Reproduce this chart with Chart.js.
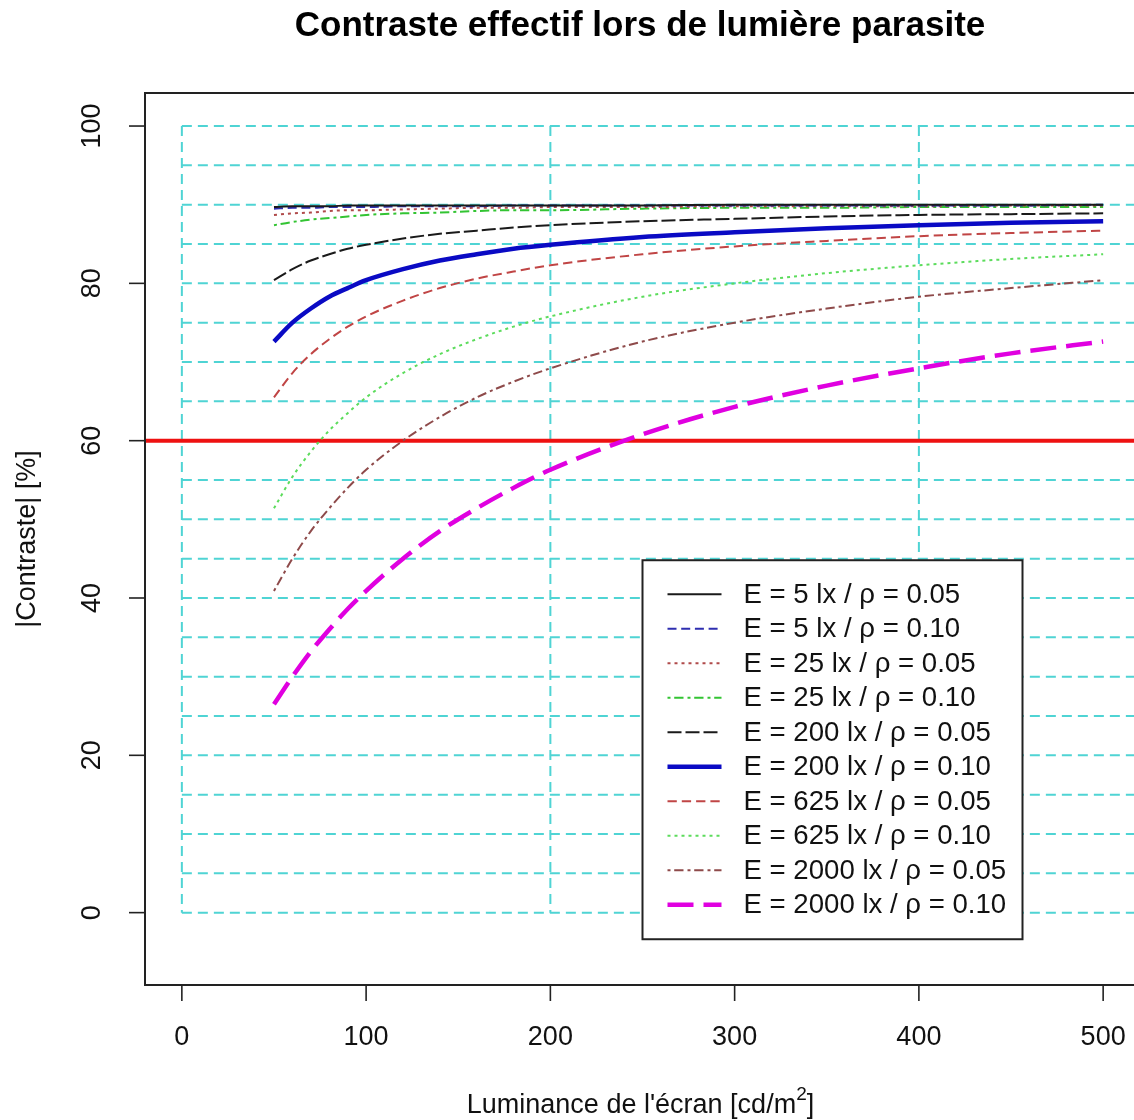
<!DOCTYPE html>
<html><head><meta charset="utf-8">
<script src="https://cdn.jsdelivr.net/npm/chart.js@4.4.1/dist/chart.umd.min.js"></script>
<style>
html,body{margin:0;padding:0;background:#fff;overflow:hidden;width:1134px;height:1120px}
#wrap{position:absolute;left:0;top:0;width:1160px;height:1120px}
</style>
</head><body><div id="wrap"><canvas id="c" width="1160" height="1120"></canvas></div>
<script>
// ---- data ----
const luminance = [50,60,70,80,90,100,120,140,160,180,200,250,300,350,400,450,500];
const seriesLabels = [
  'E = 5 lx / ρ = 0.05','E = 5 lx / ρ = 0.10',
  'E = 25 lx / ρ = 0.05','E = 25 lx / ρ = 0.10',
  'E = 200 lx / ρ = 0.05','E = 200 lx / ρ = 0.10',
  'E = 625 lx / ρ = 0.05','E = 625 lx / ρ = 0.10',
  'E = 2000 lx / ρ = 0.05','E = 2000 lx / ρ = 0.10'
];
const cE5r05   = [89.7,89.8,89.8,89.8,89.9,89.9,89.9,89.9,89.9,89.9,89.9,89.9,90.0,90.0,90.0,90.0,90.0];
const cE5r10   = [89.5,89.6,89.6,89.7,89.7,89.7,89.8,89.8,89.8,89.9,89.9,89.9,89.9,89.9,89.9,89.9,90.0];
const cE25r05  = [88.7,88.9,89.0,89.2,89.3,89.3,89.4,89.5,89.6,89.6,89.7,89.7,89.8,89.8,89.8,89.9,89.9];
const cE25r10  = [87.4,87.8,88.1,88.3,88.5,88.7,88.9,89.0,89.2,89.3,89.3,89.5,89.6,89.6,89.7,89.7,89.7];
const cE200r05 = [80.4,81.8,82.9,83.7,84.4,84.9,85.7,86.3,86.7,87.1,87.4,87.9,88.2,88.5,88.7,88.8,88.9];
const cE200r10 = [72.6,75.0,76.8,78.3,79.4,80.4,81.8,82.9,83.7,84.4,84.9,85.9,86.5,87.0,87.4,87.7,87.9];
const cE625r05 = [65.5,68.6,71.0,72.9,74.5,75.8,77.8,79.4,80.6,81.5,82.3,83.7,84.7,85.4,86.0,86.4,86.7];
const cE625r10 = [51.4,55.4,58.6,61.3,63.5,65.5,68.6,71.0,72.9,74.5,75.8,78.3,80.0,81.3,82.3,83.1,83.7];
const cE2000r05= [40.9,45.0,48.5,51.4,54.0,56.3,60.0,63.0,65.5,67.5,69.2,72.6,75.0,76.8,78.3,79.4,80.4];
const cE2000r10= [26.5,30.0,33.2,36.0,38.6,40.9,45.0,48.5,51.4,54.0,56.3,60.8,64.3,67.0,69.2,71.1,72.6];
const thresholdY = 60;
const thresholdX = [-20, 520];
const xTicks = [0,100,200,300,400,500];
const yTicks = [0,20,40,60,80,100];
const gridX = [0,200,400,600];
const gridY = [0,5,10,15,20,25,30,35,40,45,50,55,60,65,70,75,80,85,90,95,100];

const seriesValues = [cE5r05,cE5r10,cE25r05,cE25r10,cE200r05,cE200r10,cE625r05,cE625r10,cE2000r05,cE2000r10];
const styles = [
  {c:'#1a1a1a', w:2,   d:[]},
  {c:'#2e2eb0', w:2,   d:[9,4.7]},
  {c:'#b04a4a', w:2,   d:[3,4]},
  {c:'#33c433', w:2,   d:[3,3.7,9.3,4]},
  {c:'#1a1a1a', w:2,   d:[14,4]},
  {c:'#0a0ac4', w:4.5, d:[]},
  {c:'#c04545', w:2,   d:[9.3,5]},
  {c:'#5cdc5c', w:2,   d:[3,4]},
  {c:'#8e4a4a', w:2,   d:[3,3.7,9.3,4]},
  {c:'#e000e0', w:4.5, d:[26,10]}
];

const FONT = '"Liberation Sans", Arial, Helvetica, sans-serif';
const datasets = seriesValues.map((vals,i)=>({
  label: seriesLabels[i],
  data: luminance.map((l,j)=>({x:l,y:vals[j]})),
  borderColor: styles[i].c, borderWidth: styles[i].w, borderDash: styles[i].d,
  borderCapStyle:'butt', pointRadius:0, fill:false, cubicInterpolationMode:'monotone'
}));
datasets.push({
  label:'seuil', data: thresholdX.map(v=>({x:v,y:thresholdY})),
  borderColor:'#ee1111', borderWidth:4, pointRadius:0, fill:false
});

const decor = {
  id:'decor',
  beforeDatasetsDraw(chart){
    const {ctx, chartArea:a, scales:{x,y}} = chart;
    ctx.save();
    ctx.beginPath(); ctx.rect(a.left,a.top,a.right-a.left,a.bottom-a.top); ctx.clip();
    ctx.strokeStyle = '#4fd4d4'; ctx.lineWidth = 2; ctx.setLineDash([10,6]);
    const y0 = y.getPixelForValue(gridY[0]), y1 = y.getPixelForValue(gridY[gridY.length-1]);
    const x0 = x.getPixelForValue(gridX[0]), x1 = x.getPixelForValue(gridX[gridX.length-1]);
    gridY.forEach(v=>{const p=y.getPixelForValue(v); ctx.beginPath(); ctx.moveTo(x0,p); ctx.lineTo(x1,p); ctx.stroke();});
    gridX.forEach(v=>{const p=x.getPixelForValue(v); ctx.beginPath(); ctx.moveTo(p,y1); ctx.lineTo(p,y0); ctx.stroke();});
    ctx.restore();
  },
  afterDraw(chart){
    const {ctx, chartArea:a, scales:{x,y}} = chart;
    ctx.save();
    // box
    ctx.strokeStyle = '#222'; ctx.lineWidth = 2; ctx.setLineDash([]);
    ctx.strokeRect(a.left, a.top, a.right-a.left, a.bottom-a.top);
    // ticks
    ctx.lineWidth = 1.6;
    ctx.fillStyle = '#111';
    ctx.font = '27px ' + FONT;
    ctx.textAlign = 'center'; ctx.textBaseline = 'middle';
    xTicks.forEach(v=>{
      const p = x.getPixelForValue(v);
      ctx.beginPath(); ctx.moveTo(p,a.bottom); ctx.lineTo(p,a.bottom+16); ctx.stroke();
      ctx.fillText(String(v), p, 1038);
    });
    yTicks.forEach(v=>{
      const p = y.getPixelForValue(v);
      ctx.beginPath(); ctx.moveTo(a.left,p); ctx.lineTo(a.left-16,p); ctx.stroke();
      ctx.save(); ctx.translate(93,p); ctx.rotate(-Math.PI/2); ctx.fillText(String(v),0,0); ctx.restore();
    });
    // y title
    ctx.save(); ctx.translate(28,(a.top+a.bottom)/2); ctx.rotate(-Math.PI/2);
    ctx.fillText('|Contraste| [%]',0,0); ctx.restore();
    // x title with superscript
    const cx = (a.left+a.right)/2 - 2;
    const t1 = "Luminance de l'écran [cd/m", t2 = '2', t3 = ']';
    ctx.font = '27px ' + FONT; const w1 = ctx.measureText(t1).width, w3 = ctx.measureText(t3).width;
    ctx.font = '19px ' + FONT; const w2 = ctx.measureText(t2).width;
    let sx = cx - (w1+w2+w3)/2;
    ctx.textAlign = 'left'; ctx.textBaseline = 'alphabetic';
    ctx.font = '27px ' + FONT; ctx.fillText(t1, sx, 1113);
    ctx.font = '19px ' + FONT; ctx.fillText(t2, sx+w1, 1100);
    ctx.font = '27px ' + FONT; ctx.fillText(t3, sx+w1+w2, 1113);
    // main title
    ctx.font = 'bold 35px ' + FONT; ctx.textAlign = 'center'; ctx.textBaseline = 'middle';
    ctx.fillStyle = '#000';
    ctx.fillText('Contraste effectif lors de lumière parasite', 640, 26);
    // legend
    const lx = x.getPixelForValue(250), ly = y.getPixelForValue(44.8);
    ctx.fillStyle = '#fff'; ctx.fillRect(lx, ly, 380, 379);
    ctx.strokeStyle = '#222'; ctx.lineWidth = 2; ctx.strokeRect(lx, ly, 380, 379);
    ctx.font = '27.6px ' + FONT; ctx.textAlign = 'left'; ctx.textBaseline = 'middle';
    seriesLabels.forEach((lab,i)=>{
      const ry = ly + 34 + i*34.5;
      ctx.strokeStyle = styles[i].c; ctx.lineWidth = styles[i].w; ctx.setLineDash(styles[i].d);
      ctx.lineCap = 'butt';
      ctx.beginPath(); ctx.moveTo(lx+25, ry); ctx.lineTo(lx+79, ry); ctx.stroke();
      ctx.setLineDash([]);
      ctx.fillStyle = '#111';
      ctx.fillText(lab, lx+101, ry+1);
    });
    ctx.restore();
  }
};

new Chart(document.getElementById('c'), {
  type:'line',
  data:{datasets},
  options:{
    responsive:false, animation:false, devicePixelRatio:1,
    layout:{padding:{top:93,right:20,left:0,bottom:0}},
    plugins:{legend:{display:false}, title:{display:false}, tooltip:{enabled:false}},
    scales:{
      x:{type:'linear', min:-20, max:520,
         grid:{display:false}, border:{display:false}, ticks:{display:false},
         afterFit:s=>{s.height=135;}},
      y:{type:'linear', min:-9.2, max:104.2,
         grid:{display:false}, border:{display:false}, ticks:{display:false},
         afterFit:s=>{s.width=145;}}
    }
  },
  plugins:[decor]
});
</script>
</body></html>
